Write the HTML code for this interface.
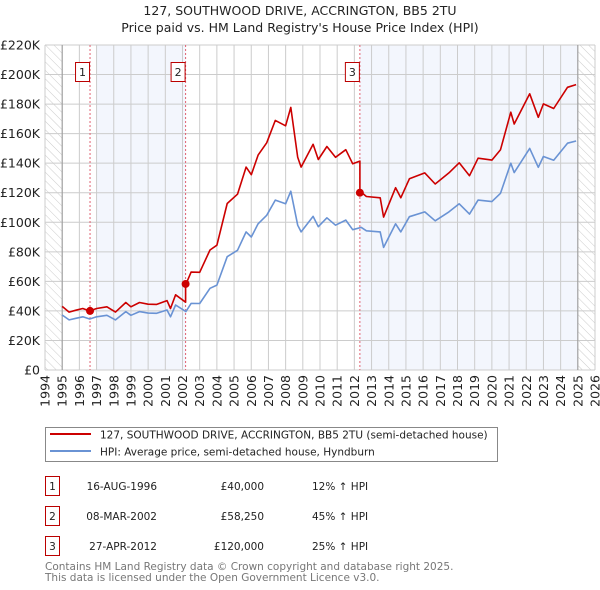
<!DOCTYPE html>
<html><head><meta charset="utf-8">
<style>
body{margin:0;background:#fff;font-family:"Liberation Sans","DejaVu Sans",sans-serif;}
#wrap{position:relative;width:600px;height:590px;overflow:hidden;}
svg text{font-family:"DejaVu Sans","Liberation Sans",sans-serif;}
</style></head>
<body>
<div id="wrap">
<svg id="chart" width="600" height="590" viewBox="0 0 600 590">
<defs>
<pattern id="hatch" width="6" height="6" patternUnits="userSpaceOnUse" patternTransform="rotate(-45)">
<line x1="0" y1="0" x2="0" y2="6" stroke="#ccc" stroke-width="1"/>
</pattern>
</defs>
<text x="300" y="15" text-anchor="middle" font-size="12.5" fill="#222">127, SOUTHWOOD DRIVE, ACCRINGTON, BB5 2TU</text>
<text x="300" y="32" text-anchor="middle" font-size="12.5" fill="#222">Price paid vs. HM Land Registry's House Price Index (HPI)</text>
<g id="plot"></g>
<g>
<rect x="45.5" y="427.5" width="452" height="34" fill="#fff" stroke="#888"/>
<line x1="50" y1="434" x2="91" y2="434" stroke="#cc0000" stroke-width="2"/>
<text x="100" y="438.5" font-size="10.5" fill="#222">127, SOUTHWOOD DRIVE, ACCRINGTON, BB5 2TU (semi-detached house)</text>
<line x1="50" y1="451" x2="91" y2="451" stroke="#6a93d4" stroke-width="2"/>
<text x="100" y="455.5" font-size="10.5" fill="#222">HPI: Average price, semi-detached house, Hyndburn</text>
</g>
<g id="table"></g>
<text x="45" y="570" font-size="10.5" fill="#777">Contains HM Land Registry data © Crown copyright and database right 2025.</text>
<text x="45" y="581" font-size="10.5" fill="#777">This data is licensed under the Open Government Licence v3.0.</text>
</svg>
</div>
<script>
const hpiYears=[1995.0,1995.4,1995.8,1996.2,1996.6,1997.0,1997.6,1998.1,1998.7,1999.0,1999.5,2000.0,2000.5,2001.1,2001.3,2001.6,2002.2,2002.5,2003.0,2003.6,2004.0,2004.6,2005.2,2005.7,2006.0,2006.4,2006.9,2007.4,2008.0,2008.3,2008.7,2008.9,2009.6,2009.9,2010.4,2010.9,2011.5,2011.9,2012.4,2012.7,2013.5,2013.7,2014.4,2014.7,2015.2,2016.1,2016.7,2017.5,2018.1,2018.7,2019.2,2020.0,2020.5,2021.1,2021.3,2022.2,2022.7,2023.0,2023.6,2024.4,2024.9];
const hpiValues=[37200,33900,35000,36000,34500,36000,37000,33900,39500,37000,39500,38500,38400,40600,36000,44000,39500,45100,45000,55300,57500,76700,81000,93500,90000,99000,104700,115000,112500,121000,98000,93500,104000,97000,103000,98000,101500,95000,96500,94200,93500,83000,99000,93500,103800,107000,101000,107000,112500,105500,115000,114000,119600,140000,133600,150000,137200,144500,142000,153500,155000];
const saleLabels=["1","2","3"];
const saleYears=[1996.62,2002.18,2012.32];
const salePrices=[40000,58250,120000];
const saleDates=["16-AUG-1996","08-MAR-2002","27-APR-2012"];
const salePriceText=["£40,000","£58,250","£120,000"];
const saleHpiText=["12% ↑ HPI","45% ↑ HPI","25% ↑ HPI"];
const yTicks=[0,20000,40000,60000,80000,100000,120000,140000,160000,180000,200000,220000];
const yTickLabels=["£0","£20K","£40K","£60K","£80K","£100K","£120K","£140K","£160K","£180K","£200K","£220K"];
const xTicks=[1994,1995,1996,1997,1998,1999,2000,2001,2002,2003,2004,2005,2006,2007,2008,2009,2010,2011,2012,2013,2014,2015,2016,2017,2018,2019,2020,2021,2022,2023,2024,2025,2026];

const NS="http://www.w3.org/2000/svg";
const L=45,R=595,T=45,B=370;
const xMin=1994,xMax=2026,yMax=220000;
const xs=v=>L+(v-xMin)/(xMax-xMin)*(R-L);
const ys=v=>B-v/yMax*(B-T);
const plot=document.getElementById('plot');
function mk(tag,attrs,parent){const e=document.createElementNS(NS,tag);for(const k in attrs)e.setAttribute(k,attrs[k]);(parent||plot).appendChild(e);return e;}
function hpiAt(t){for(let i=0;i<hpiYears.length-1;i++){if(t>=hpiYears[i]&&t<=hpiYears[i+1]){const f=(t-hpiYears[i])/(hpiYears[i+1]-hpiYears[i]);return hpiValues[i]+f*(hpiValues[i+1]-hpiValues[i]);}}return hpiValues[hpiValues.length-1];}

let e;
e=mk('rect',{x:xs(1997),y:T,width:xs(saleYears[1])-xs(1997),height:B-T,fill:'#f3f6fd'});


e=mk('rect',{x:xs(saleYears[2]),y:T,width:xs(2025)-xs(saleYears[2]),height:B-T,fill:'#f3f6fd'});


e=mk('rect',{x:L,y:T,width:xs(1995)-L,height:B-T,fill:'url(#hatch)'});


e=mk('rect',{x:xs(2025),y:T,width:R-xs(2025),height:B-T,fill:'url(#hatch)'});



yTicks.forEach((v,i)=>{
  const g=mk('line',{x1:L,x2:R,y1:ys(v),y2:ys(v),stroke:'#ccc','stroke-width':1});
  
  
  const t=mk('text',{x:L-5,y:ys(v)+4.5,'text-anchor':'end','font-size':12.5,fill:'#222'});
  t.textContent=yTickLabels[i];
  
  
});
xTicks.forEach(v=>{
  const g=mk('line',{x1:xs(v),x2:xs(v),y1:T,y2:B,stroke:'#ccc','stroke-width':1});
  
  
  const t=mk('text',{x:0,y:0,'text-anchor':'end','font-size':12.5,fill:'#222',transform:`translate(${xs(v)+4.5},${B+5}) rotate(-90)`});
  t.textContent=v;
  
  
});
e=mk('line',{x1:xs(1995),x2:xs(1995),y1:T,y2:B,stroke:'#999','stroke-width':1});


e=mk('line',{x1:xs(2025),x2:xs(2025),y1:T,y2:B,stroke:'#999','stroke-width':1});



saleYears.forEach((s,i)=>{
  const l=mk('line',{x1:xs(s),x2:xs(s),y1:T,y2:B,stroke:'#e06070','stroke-width':1,'stroke-dasharray':'2,2'});
  
  
  const r=mk('rect',{x:xs(s)-14.5,y:62.5,width:14,height:19,fill:'#fff',stroke:'#b00','stroke-width':1});
  
  
  const t=mk('text',{x:xs(s)-7.5,y:76,'text-anchor':'middle','font-size':11,fill:'#222'});
  t.textContent=saleLabels[i];
  
  
});

const hp=hpiYears.map((t,i)=>xs(t).toFixed(1)+','+ys(hpiValues[i]).toFixed(1)).join(' ');
e=mk('polyline',{points:hp,fill:'none',stroke:'#6a93d4','stroke-width':1.6,'stroke-linejoin':'round'});



const pts=[];
const times=hpiYears.concat(saleYears).sort((a,b)=>a-b);
times.forEach(t=>{
  let k=0;for(let j=0;j<saleYears.length;j++){if(t>=saleYears[j])k=j;}
  const v=salePrices[k]*hpiAt(t)/hpiAt(saleYears[k]);
  if(saleYears.includes(t)&&k>0){const pv=salePrices[k-1]*hpiAt(t)/hpiAt(saleYears[k-1]);pts.push(xs(t).toFixed(1)+','+ys(pv).toFixed(1));}
  pts.push(xs(t).toFixed(1)+','+ys(v).toFixed(1));
});
e=mk('polyline',{points:pts.join(' '),fill:'none',stroke:'#cc0000','stroke-width':1.6,'stroke-linejoin':'round'});


saleYears.forEach((s,i)=>{
  const c=mk('circle',{cx:xs(s),cy:ys(salePrices[i]),r:4,fill:'#cc0000'});
  
  
});

const tb=document.getElementById('table');
saleLabels.forEach((lab,i)=>{
  const y=476+i*30;
  const r=mk('rect',{x:45.5,y:y+0.5,width:14,height:19,fill:'#fff',stroke:'#b00'},tb);
  
  
  const cells=[[52.5,'middle',lab],[157,'end',saleDates[i]],[264,'end',salePriceText[i]],[312,'start',saleHpiText[i]]];
  cells.forEach((c,j)=>{
    const t=mk('text',{x:c[0],y:y+14,'text-anchor':c[1],'font-size':10.5,fill:'#222'},tb);
    t.textContent=c[2];
    
    
  });
});
</script>
</body></html>
